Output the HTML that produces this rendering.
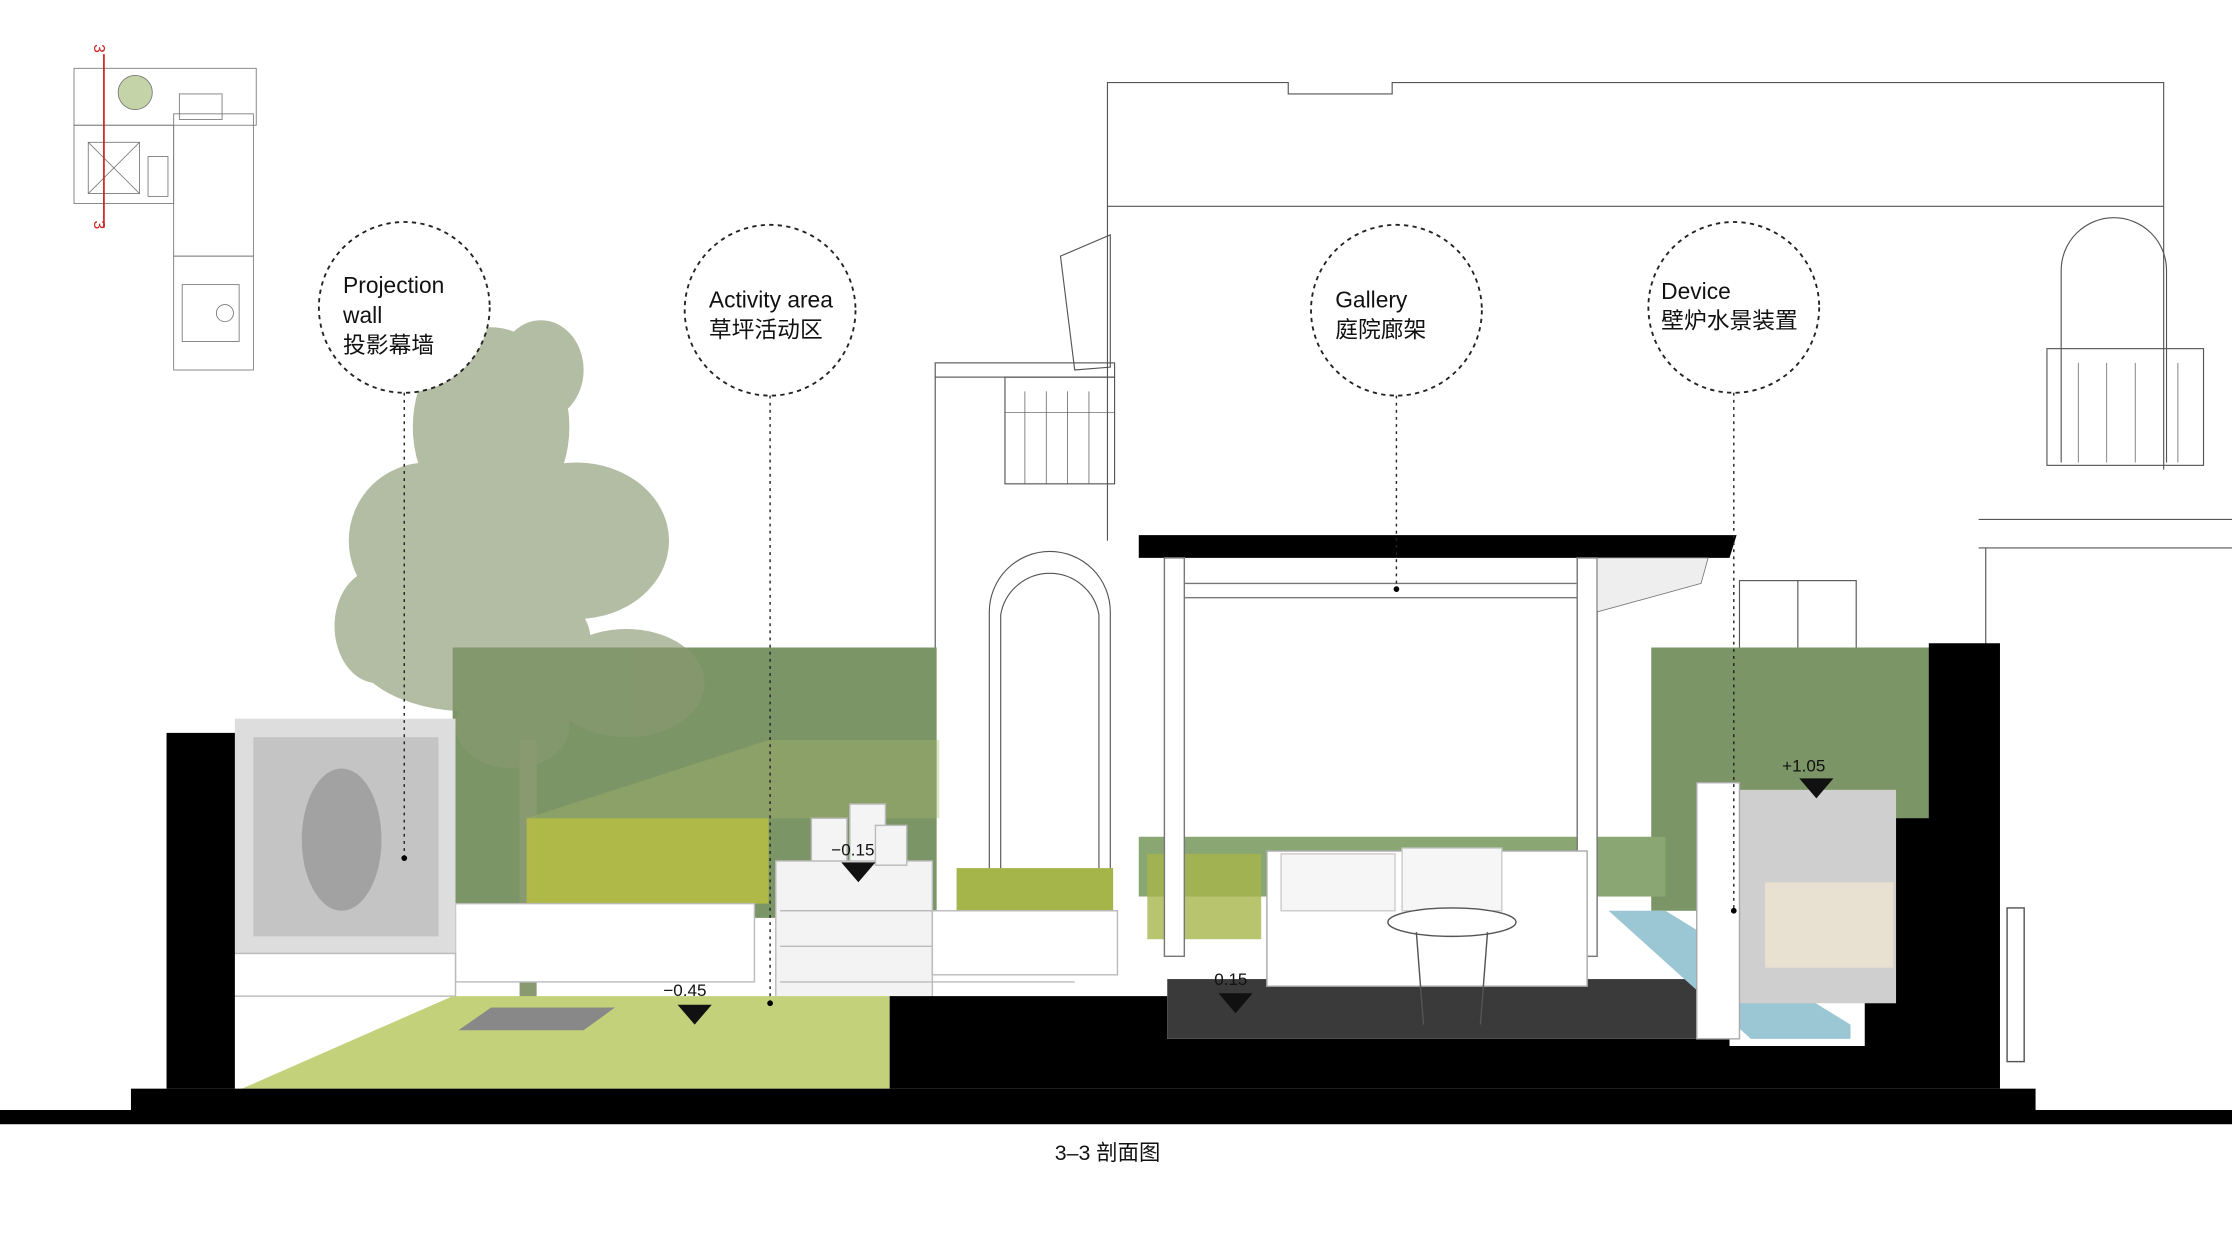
<!DOCTYPE html>
<html><head><meta charset="utf-8"><style>
html,body{margin:0;padding:0;background:#fff;width:2232px;height:1258px;overflow:hidden}
svg{display:block}
text{font-family:"Liberation Sans","Noto Sans CJK SC",sans-serif}
</style></head><body>
<svg width="2232" height="1258" viewBox="0 0 1568 884" preserveAspectRatio="none" xmlns="http://www.w3.org/2000/svg">
<rect width="1568" height="884" fill="#fff"/>
<!-- mini plan -->
<g stroke="#777" stroke-width="0.6" fill="none">
<rect x="52" y="48" width="128" height="40"/><rect x="52" y="88" width="70" height="55"/>
<rect x="122" y="80" width="56" height="100"/><rect x="122" y="180" width="56" height="80"/>
<circle cx="95" cy="65" r="12" fill="#c5d3a8"/><rect x="62" y="100" width="36" height="36"/>
<line x1="62" y1="100" x2="98" y2="136"/><line x1="98" y1="100" x2="62" y2="136"/>
<rect x="128" y="200" width="40" height="40"/><circle cx="158" cy="220" r="6"/>
<rect x="126" y="66" width="30" height="18"/><rect x="104" y="110" width="14" height="28"/>
</g>
<line x1="73" y1="38" x2="73" y2="160" stroke="#c22" stroke-width="1.2"/>
<text x="67" y="38" font-size="11" fill="#c22" transform="rotate(90 70 34)">3</text>
<text x="67" y="162" font-size="11" fill="#c22" transform="rotate(90 70 158)">3</text>
<!-- house outlines -->
<g stroke="#555" stroke-width="0.8" fill="none">
<polyline points="778,380 778,58 905,58 905,66 978,66 978,58 1520,58 1520,330"/>
<line x1="778" y1="145" x2="1520" y2="145"/>
<rect x="657" y="255" width="126" height="10"/><rect x="706" y="265" width="77" height="75"/>
<g stroke-width="0.5"><line x1="720" y1="275" x2="720" y2="340"/><line x1="735" y1="275" x2="735" y2="340"/><line x1="750" y1="275" x2="750" y2="340"/><line x1="765" y1="275" x2="765" y2="340"/><line x1="706" y1="290" x2="783" y2="290"/></g>
<polyline points="657,265 657,630"/>
<path d="M695,630 V430 A42,42 0 0 1 780,430 V630"/><path d="M703,630 V432 A35,35 0 0 1 772,432 V630"/>
<path d="M1448,325 V190 A37,37 0 0 1 1522,190 V325"/>
<rect x="1438" y="245" width="110" height="82"/>
<g stroke-width="0.5"><line x1="1460" y1="255" x2="1460" y2="325"/><line x1="1480" y1="255" x2="1480" y2="325"/><line x1="1500" y1="255" x2="1500" y2="325"/><line x1="1530" y1="255" x2="1530" y2="325"/></g>
<polyline points="1390,365 1568,365"/><polyline points="1390,385 1568,385"/><line x1="1395" y1="385" x2="1395" y2="455"/>
<rect x="1222" y="408" width="82" height="48"/><line x1="1263" y1="408" x2="1263" y2="456"/>
<polygon points="745,180 780,165 780,258 755,260"/>
</g>
<!-- green walls -->
<rect x="318" y="455" width="340" height="190" fill="#7b9566"/>
<rect x="1160" y="455" width="200" height="185" fill="#7b9566"/>
<rect x="800" y="588" width="370" height="42" fill="#8aa672"/>
<!-- tree -->
<g fill="#8a9a72" opacity="0.65">
<ellipse cx="345" cy="300" rx="55" ry="70"/><ellipse cx="300" cy="380" rx="55" ry="55"/>
<ellipse cx="405" cy="380" rx="65" ry="55"/><ellipse cx="330" cy="450" rx="85" ry="50"/>
<ellipse cx="380" cy="260" rx="30" ry="35"/><ellipse cx="440" cy="480" rx="55" ry="38"/>
<ellipse cx="265" cy="440" rx="30" ry="40"/><ellipse cx="360" cy="510" rx="40" ry="30"/>
</g>
<rect x="365" y="520" width="12" height="195" fill="#8a9a70"/>
<!-- grasses -->
<rect x="370" y="575" width="170" height="60" fill="#b4bd45" opacity="0.9"/>
<polygon points="370,575 540,520 660,520 660,575 540,575" fill="#a8b86a" opacity="0.35"/>
<rect x="672" y="610" width="110" height="32" fill="#a6b54a"/>
<rect x="806" y="600" width="80" height="60" fill="#a6b54a" opacity="0.8"/>
<!-- planters/steps -->
<rect x="320" y="635" width="210" height="55" fill="#fff" stroke="#bbb"/>
<rect x="545" y="605" width="110" height="105" fill="#f3f3f3" stroke="#bbb"/>
<g stroke="#bbb"><line x1="548" y1="640" x2="655" y2="640"/><line x1="548" y1="665" x2="655" y2="665"/><line x1="548" y1="690" x2="755" y2="690"/></g>
<rect x="655" y="640" width="130" height="45" fill="#fff" stroke="#bbb"/>
<g fill="#f4f4f4" stroke="#bbb"><rect x="570" y="575" width="25" height="30"/><rect x="597" y="565" width="25" height="40"/><rect x="615" y="580" width="22" height="28"/></g>
<!-- screen wall -->
<rect x="165" y="505" width="155" height="165" fill="#ddd"/>
<rect x="178" y="518" width="130" height="140" fill="#c4c4c4"/>
<ellipse cx="240" cy="590" rx="28" ry="50" fill="#8c8c8c" opacity="0.6"/>
<rect x="150" y="670" width="170" height="30" fill="#fff" stroke="#bbb"/>
<rect x="117" y="515" width="48" height="250" fill="#000"/>
<!-- lawn -->
<polygon points="318,700 625,700 625,765 170,765" fill="#c3d27a"/>
<polygon points="345,708 432,708 410,724 322,724" fill="#888"/>
<!-- black ground -->
<polygon points="625,700 820,700 820,730 1215,730 1215,735 1310,735 1310,575 1355,575 1355,452 1405,452 1405,765 625,765" fill="#000"/>
<rect x="92" y="765" width="1338" height="16" fill="#000"/>
<rect x="0" y="780" width="1568" height="10" fill="#000"/>
<!-- deck -->
<rect x="820" y="688" width="380" height="42" fill="#3a3a3a"/>
<!-- pergola -->
<polygon points="800,376 1220,376 1215,392 800,392" fill="#000"/>
<rect x="818" y="392" width="14" height="280" fill="#fff" stroke="#777"/>
<rect x="1108" y="392" width="14" height="280" fill="#fff" stroke="#777"/>
<line x1="832" y1="410" x2="1108" y2="410" stroke="#777"/>
<line x1="832" y1="420" x2="1108" y2="420" stroke="#777"/>
<polygon points="1122,392 1200,392 1195,410 1122,430" fill="#eee" stroke="#777" stroke-width="0.6"/>
<!-- sofa, table -->
<rect x="890" y="598" width="225" height="95" fill="#fff" stroke="#aaa"/>
<rect x="900" y="600" width="80" height="40" fill="#f6f6f6" stroke="#ccc"/><rect x="985" y="596" width="70" height="44" fill="#f6f6f6" stroke="#ccc"/>
<ellipse cx="1020" cy="648" rx="45" ry="10" fill="#fff" stroke="#555"/>
<line x1="995" y1="655" x2="1000" y2="720" stroke="#555"/><line x1="1045" y1="655" x2="1040" y2="720" stroke="#555"/>
<!-- fireplace -->
<polygon points="1130,640 1170,640 1300,720 1300,730 1230,730" fill="#9bc6d4"/>
<rect x="1222" y="555" width="110" height="150" fill="#cfcfcf"/>
<rect x="1240" y="620" width="90" height="60" fill="#e8e0d0"/>
<rect x="1192" y="550" width="30" height="180" fill="#fff" stroke="#aaa"/>
<rect x="1410" y="638" width="12" height="108" fill="#fff" stroke="#555"/>
<!-- dashed circles -->
<g fill="#fff" stroke="#222" stroke-width="1.3" stroke-dasharray="3,3">
<circle cx="284" cy="216" r="60"/><circle cx="541" cy="218" r="60"/>
<circle cx="981" cy="218" r="60"/><circle cx="1218" cy="216" r="60"/>
</g>
<g stroke="#222" stroke-width="1" stroke-dasharray="2,3">
<line x1="284" y1="276" x2="284" y2="603"/><line x1="541" y1="278" x2="541" y2="705"/>
<line x1="981" y1="278" x2="981" y2="414"/><line x1="1218" y1="276" x2="1218" y2="640"/>
</g>
<g fill="#000"><circle cx="284" cy="603" r="2"/><circle cx="541" cy="705" r="2"/><circle cx="981" cy="414" r="2"/><circle cx="1218" cy="640" r="2"/></g>
<g font-size="16" fill="#111">
<text x="241" y="206">Projection</text><text x="241" y="227">wall</text><text x="241" y="248">投影幕墙</text>
<text x="498" y="216">Activity area</text><text x="498" y="237">草坪活动区</text>
<text x="938" y="216">Gallery</text><text x="938" y="237">庭院廊架</text>
<text x="1167" y="210">Device</text><text x="1167" y="231">壁炉水景装置</text>
</g>
<!-- elevations -->
<g font-size="12" fill="#111">
<text x="466" y="700">−0.45</text><polygon points="476,706 500,706 488,720"/>
<text x="584" y="601">−0.15</text><polygon points="591,606 615,606 603,620"/>
<text x="853" y="692">0.15</text><polygon points="856,698 880,698 868,712"/>
<text x="1252" y="542">+1.05</text><polygon points="1264,547 1288,547 1276,561"/>
</g>
<text x="741" y="815" font-size="15" fill="#111">3–3 剖面图</text>
</svg>
</body></html>
